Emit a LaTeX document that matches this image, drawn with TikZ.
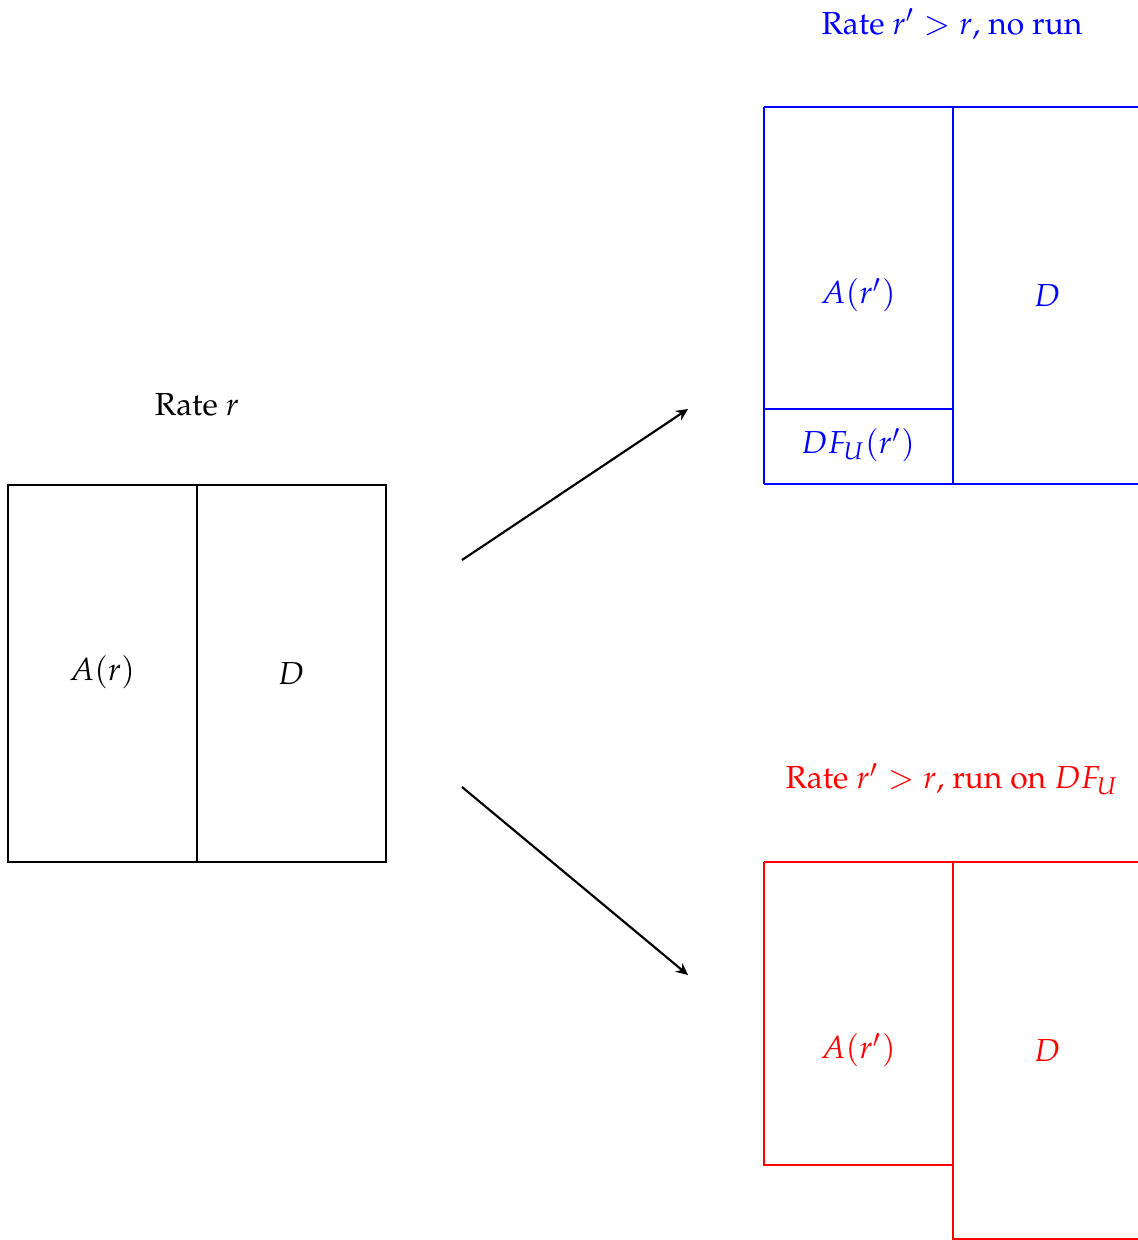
\documentclass[tikz,border=0pt]{standalone}
\usepackage[T1]{fontenc}
\usepackage{mathpazo}
\usetikzlibrary{arrows.meta}
\begin{document}
\begin{tikzpicture}[x=0.010582cm,y=-0.010582cm,
  edge/.style={line width=0.65pt},
  lbl/.style={inner sep=0pt, anchor=center, font=\fontsize{9.6pt}{11.5pt}\selectfont},
  arr/.style={-{Stealth[length=3.6pt,width=3.4pt,inset=1.2pt]}, line width=0.65pt}]
\useasboundingbox (0,0) rectangle (1138,1240);
\begin{scope}
\clip (0,0) rectangle (1138,1240);
% left box
\draw[edge] (8,485) rectangle (386,862);
\draw[edge] (197,485) -- (197,862);
\node[lbl] (rate) at (197,405) {Rate $r$};
\node[lbl] (ar) at (102,672) {$A(r)$};
\node[lbl] (d) at (291,674) {$D$};
% arrows
\coordinate (s1) at (462,560);
\coordinate (e1) at (688,409);
\coordinate (s2) at (462,787);
\coordinate (e2) at (688,975);
\draw[arr] (s1) -- (e1);
\draw[arr] (s2) -- (e2);
% blue box
\begin{scope}[blue]
\draw[edge] (764,107) -- (1142,107);
\draw[edge] (764,484) -- (1142,484);
\draw[edge] (764,107) -- (764,484);
\draw[edge] (953,107) -- (953,484);
\draw[edge] (764,409) -- (953,409);
\node[lbl] (bt) at (952,24) {Rate $r' > r$, no run};
\node[lbl] (ba) at (858,295) {$A(r')$};
\node[lbl] (bd) at (1047,296) {$D$};
\node[lbl] (bdf) at (858,445) {$DF_U(r')$};
\end{scope}
% red box
\begin{scope}[red]
\draw[edge] (764,862) -- (1142,862);
\draw[edge] (764,862) -- (764,1165) -- (953,1165);
\draw[edge] (953,862) -- (953,1239) -- (1142,1239);
\node[lbl] (rt) at (952,779) {Rate $r' > r$, run on $DF_U$};
\node[lbl] (ra) at (858,1050) {$A(r')$};
\node[lbl] (rd) at (1047,1051) {$D$};
\end{scope}
\end{scope}
\end{tikzpicture}
\end{document}
